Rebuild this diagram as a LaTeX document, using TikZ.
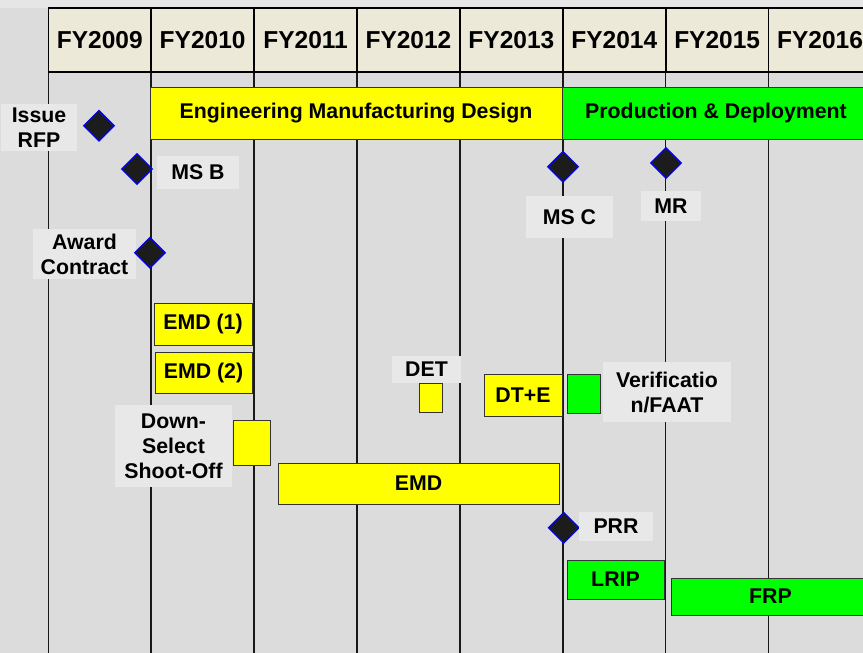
\documentclass[tikz,border=0pt]{standalone}
\usepackage{fontspec}
\setmainfont{Liberation Sans}
\usetikzlibrary{shapes.geometric}
\definecolor{bg}{HTML}{DCDCDC}
\definecolor{topstrip}{HTML}{E6E6E6}
\definecolor{hdr}{HTML}{ECE9D8}
\definecolor{lbl}{HTML}{E8E8E8}
\definecolor{ylw}{HTML}{FFFF00}
\definecolor{grn}{HTML}{00FF00}
\definecolor{dia}{HTML}{1C1C1C}
\begin{document}
\begin{tikzpicture}[x=1pt,y=-1pt,
  hdrcell/.style={draw=black,line width=1.6pt,fill=hdr,minimum width=102.9pt,minimum height=64pt,inner sep=0pt,font=\fontsize{24.5}{28}\selectfont\bfseries},
  bar/.style={draw=black!80,line width=1pt,inner sep=0pt,font=\fontsize{21.3}{25}\selectfont\bfseries},
  ybar/.style={bar,fill=ylw},
  gbar/.style={bar,fill=grn},
  lab/.style={fill=lbl,inner sep=0pt,align=center,font=\fontsize{21.3}{25}\selectfont\bfseries},
  ms/.style={diamond,fill=dia,draw=blue,line width=1.2pt,minimum width=31pt,minimum height=31pt,inner sep=0pt},
  grid/.style={draw=black!90,line width=1.5pt}]
\useasboundingbox (0,0) rectangle (863,653);
% background
\fill[bg] (0,0) rectangle (863,653);
\fill[topstrip] (0,0) rectangle (863,8);
% vertical grid lines
\foreach \i in {0,...,8}{
  \draw[grid] ({48.3+102.9*\i},72) -- ({48.3+102.9*\i},653);
}
% header cells
\foreach \yr [count=\i from 0] in {2009,2010,2011,2012,2013,2014,2015,2016}{
  \node[hdrcell] (fy\yr) at ({99.75+102.9*\i},40) {FY\yr};
}
% phase bars
\node[ybar,minimum width=412pt,minimum height=52pt] (emdphase) at (356,113) {Engineering Manufacturing Design};
\node[gbar,minimum width=308pt,minimum height=52pt] (pdphase) at (716,113) {Production \& Deployment};
% milestones
\node[ms] (rfp) at (99,125.7) {};
\node[lab,minimum width=76pt,minimum height=47pt] (rfpl) at (39,127.5) {Issue\\RFP};
\node[ms] (msb) at (137,169) {};
\node[lab,minimum width=82pt,minimum height=33pt] (msbl) at (198,172.5) {MS B};
\node[lab,minimum width=103pt,minimum height=50pt] (awl) at (84.5,254) {Award\\Contract};
\node[ms] (aw) at (150,252.7) {};
\node[ms] (msc) at (563,166.7) {};
\node[lab,minimum width=87pt,minimum height=42pt] (mscl) at (569.5,217) {MS C};
\node[ms] (mr) at (666,163) {};
\node[lab,minimum width=60pt,minimum height=30pt] (mrl) at (671,206) {MR};
% activities
\node[ybar,minimum width=98pt,minimum height=42pt] (emd1) at (203,324) {EMD (1)};
\node[ybar,minimum width=97pt,minimum height=41pt] (emd2) at (203.5,372.5) {EMD (2)};
\node[lab,minimum width=117pt,minimum height=82pt] (dsl) at (173.5,446) {Down-\\Select\\Shoot-Off};
\node[ybar,minimum width=37pt,minimum height=45pt] (ds) at (251.5,442.5) {};
\node[ybar,minimum width=281pt,minimum height=41pt] (emd) at (418.5,483.5) {EMD};
\node[lab,minimum width=69pt,minimum height=27pt] (detl) at (426.5,369.5) {DET};
\node[ybar,minimum width=23pt,minimum height=29pt] (det) at (430.5,397.5) {};
\node[ybar,minimum width=78pt,minimum height=42pt] (dte) at (523,395) {DT+E};
\node[gbar,minimum width=33pt,minimum height=39pt] (ver) at (583.5,393.5) {};
\node[lab,minimum width=128pt,minimum height=60pt] (verl) at (667,392) {Verificatio\\n/FAAT};
\node[ms] (prr) at (563.7,527.7) {};
\node[lab,minimum width=74pt,minimum height=29pt] (prrl) at (616,526.5) {PRR};
\node[gbar,minimum width=97pt,minimum height=39pt] (lrip) at (615.5,579.5) {LRIP};
\node[gbar,minimum width=199pt,minimum height=37pt] (frp) at (770.5,596.5) {FRP};
\end{tikzpicture}
\end{document}
